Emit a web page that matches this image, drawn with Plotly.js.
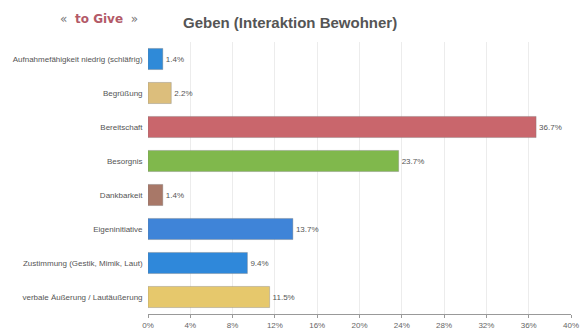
<!DOCTYPE html>
<html><head><meta charset="utf-8">
<script src="https://cdn.plot.ly/plotly-3.0.1.min.js"></script>
<style>html,body{margin:0;padding:0;background:#fff;}#chart{width:580px;height:334px;}</style>
</head><body><div id="chart"></div>
<script>
const categories = [
  "Aufnahmefähigkeit niedrig (schläfrig)",
  "Begrüßung",
  "Bereitschaft",
  "Besorgnis",
  "Dankbarkeit",
  "Eigeninitiative",
  "Zustimmung (Gestik, Mimik, Laut)",
  "verbale Äußerung / Lautäußerung"
];
const values = [1.4, 2.2, 36.7, 23.7, 1.4, 13.7, 9.4, 11.5];
const valueLabels = ["1.4%", "2.2%", "36.7%", "23.7%", "1.4%", "13.7%", "9.4%", "11.5%"];
const barColors = ["#2f8ad8", "#dcbe7c", "#c9666c", "#80b84c", "#a87868", "#3f84d8", "#2f88da", "#e6c86c"];
const tickVals = [0, 4, 8, 12, 16, 20, 24, 28, 32, 36, 40];
const tickText = ["0%", "4%", "8%", "12%", "16%", "20%", "24%", "28%", "32%", "36%", "40%"];

const trace = {
  type: "bar",
  orientation: "h",
  y: categories,
  x: values,
  text: valueLabels,
  textposition: "outside",
  cliponaxis: false,
  textfont: {family: "Liberation Sans, Arial, sans-serif", size: 8, color: "#555"},
  marker: {color: barColors, line: {color: "rgba(120,120,120,0.35)", width: 1}},
  width: 0.62,
  hoverinfo: "none"
};

const layout = {
  width: 580, height: 334,
  margin: {l: 148, r: 9, t: 42, b: 20},
  paper_bgcolor: "#fff", plot_bgcolor: "#fff",
  showlegend: false,
  font: {family: "Liberation Sans, Arial, sans-serif", color: "#555"},
  xaxis: {
    range: [0, 40], tickvals: tickVals, ticktext: tickText,
    showgrid: true, gridcolor: "#ececec", gridwidth: 1,
    zeroline: false, showline: true, linecolor: "#999", linewidth: 1,
    ticks: "outside", ticklen: 3, tickcolor: "#999",
    tickfont: {size: 8, color: "#666"}, fixedrange: true
  },
  yaxis: {
    autorange: "reversed", showgrid: false, zeroline: false,
    showline: false, ticks: "", ticklen: 0,
    tickfont: {size: 8, color: "#555"}, ticksuffix: "  ", fixedrange: true
  },
  annotations: [
    {xref: "paper", yref: "paper", x: (58 - 148) / 423, y: (334 - 20 - 19) / 272,
     xanchor: "left", yanchor: "middle", showarrow: false,
     text: "<span style='color:#777'>«</span>  <b style='color:#b35a68'>to Give</b>  <span style='color:#777'>»</span>",
     font: {family: "DejaVu Sans, sans-serif", size: 12}},
    {xref: "paper", yref: "paper", x: (181 - 148) / 423, y: (334 - 20 - 22) / 272,
     xanchor: "left", yanchor: "middle", showarrow: false,
     text: "<b>Geben (Interaktion Bewohner)</b>",
     font: {family: "Liberation Sans, Arial, sans-serif", size: 15, color: "#555"}}
  ]
};

Plotly.newPlot("chart", [trace], layout, {staticPlot: true, displayModeBar: false});
</script>
</body></html>
